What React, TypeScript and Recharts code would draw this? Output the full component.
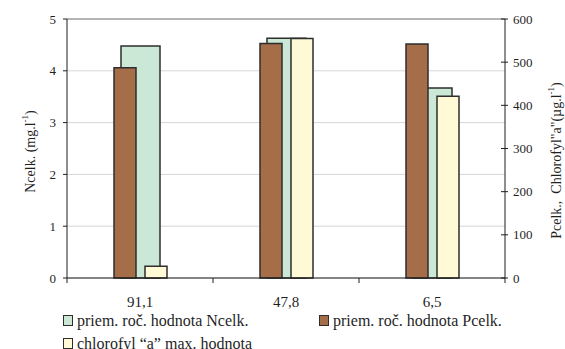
import React from "react";
import { BarChart, Bar, XAxis, YAxis, CartesianGrid, ReferenceLine } from "recharts";

// sampling sites and measured values
const sites = ["91,1", "47,8", "6,5"];
const nCelk = [4.48, 4.63, 3.67]; // mg/l, left axis
const pCelk = [487, 543, 542]; // µg/l, right axis
const chlA = [27, 555, 421]; // µg/l, right axis

const leftTicks = [0, 1, 2, 3, 4, 5];
const rightTicks = [0, 100, 200, 300, 400, 500, 600];

const W = 565;
const H = 349;
const PLOT_LEFT = 67;
const PLOT_RIGHT = 505;
const PLOT_TOP = 19;
const PLOT_BOTTOM = 278;
const BAND = (PLOT_RIGHT - PLOT_LEFT) / sites.length;

const FONT = '"Liberation Serif", "Times New Roman", serif';
const INK = "#1f1f1f";
const GREEN = "#cbe7d6";
const BROWN = "#a56d48";
const CREAM = "#fff9d6";
const EDGE = "#2e2e2e";

const legendItems = [
  { label: "priem. roč. hodnota Ncelk.", color: GREEN, left: 63, top: 312 },
  { label: "priem. roč. hodnota Pcelk.", color: BROWN, left: 319, top: 312 },
  { label: "chlorofyl “a” max. hodnota", color: CREAM, left: 63, top: 335 },
];

const data = sites.map((site, i) => ({ site, n: nCelk[i], p: pCelk[i], chl: chlA[i] }));

function SiteTick(props: any) {
  const { x, y, payload, index } = props;
  const half = BAND / 2;
  return (
    <g>
      <line x1={x - half} x2={x - half} y1={y} y2={y + 5} stroke={INK} />
      {index === sites.length - 1 && (
        <line x1={x + half} x2={x + half} y1={y} y2={y + 5} stroke={INK} />
      )}
      <text x={x} y={y + 29} textAnchor="middle" fontSize={15} fontFamily={FONT} fill={INK}>
        {payload.value}
      </text>
    </g>
  );
}

function RightTick(props: any) {
  const { x, y, payload } = props;
  return (
    <g>
      <line x1={x - 4} x2={x + 3} y1={y} y2={y} stroke={INK} />
      <text x={x + 8} y={y} dy={4.5} fontSize={13} fontFamily={FONT} fill={INK}>
        {payload.value}
      </text>
    </g>
  );
}

function LeftTitle() {
  const cx = 30;
  const cy = (PLOT_TOP + PLOT_BOTTOM) / 2 + 3;
  return (
    <text
      transform={`rotate(-90 ${cx} ${cy})`}
      x={cx}
      y={cy}
      textAnchor="middle"
      dominantBaseline="central"
      fontSize={14}
      fontFamily={FONT}
      fill={INK}
    >
      Ncelk. (mg.l<tspan dy={-5} fontSize={9}>-1</tspan>
      <tspan dy={5}>)</tspan>
    </text>
  );
}

function RightTitle() {
  const cx = 556;
  const cy = (PLOT_TOP + PLOT_BOTTOM) / 2 + 12;
  return (
    <text
      transform={`rotate(-90 ${cx} ${cy})`}
      x={cx}
      y={cy}
      textAnchor="middle"
      dominantBaseline="central"
      fontSize={14}
      fontFamily={FONT}
      fill={INK}
      style={{ whiteSpace: "pre" }}
    >
      {"Pcelk.,  Chlorofyl\"a\"(µg.l"}
      <tspan dy={-5} fontSize={9}>-1</tspan>
      <tspan dy={5}>)</tspan>
    </text>
  );
}

export default function App() {
  return (
    <div style={{ position: "absolute", left: 0, top: 0, width: W, height: H, background: "#fff" }}>
      <BarChart
        width={W}
        height={H}
        data={data}
        margin={{ top: PLOT_TOP, right: W - PLOT_RIGHT - 60, bottom: 0, left: 0 }}
        barGap={9}
      >
        <CartesianGrid xAxisId="n" yAxisId="n" vertical={false} stroke="#d6d6d6" />
        <XAxis
          xAxisId="n"
          dataKey="site"
          height={H - PLOT_BOTTOM}
          axisLine={{ stroke: INK }}
          tickLine={false}
          tickSize={0}
          tickMargin={0}
          tick={<SiteTick />}
          interval={0}
        />
        <XAxis xAxisId="p" dataKey="site" hide />
        <YAxis
          yAxisId="n"
          width={PLOT_LEFT}
          domain={[0, 5]}
          ticks={leftTicks}
          interval={0}
          axisLine={{ stroke: INK }}
          tickLine={{ stroke: INK }}
          tickSize={4}
          tickMargin={7}
          tick={{ fontSize: 13, fontFamily: FONT, fill: INK }}
          label={<LeftTitle />}
        />
        <YAxis
          yAxisId="p"
          orientation="right"
          width={60}
          domain={[0, 600]}
          ticks={rightTicks}
          interval={0}
          axisLine={{ stroke: INK }}
          tickLine={false}
          tickSize={0}
          tickMargin={0}
          tick={<RightTick />}
          label={<RightTitle />}
        />
        <ReferenceLine xAxisId="n" yAxisId="n" y={5} stroke="#a3a3a3" strokeWidth={1.5} />
        <Bar
          xAxisId="n"
          yAxisId="n"
          dataKey="n"
          barSize={39}
          fill={GREEN}
          stroke={EDGE}
          strokeWidth={1.5}
          isAnimationActive={false}
        />
        <Bar
          xAxisId="p"
          yAxisId="p"
          dataKey="p"
          barSize={22}
          fill={BROWN}
          stroke={EDGE}
          strokeWidth={1.5}
          isAnimationActive={false}
        />
        <Bar
          xAxisId="p"
          yAxisId="p"
          dataKey="chl"
          barSize={22}
          fill={CREAM}
          stroke={EDGE}
          strokeWidth={1.5}
          isAnimationActive={false}
        />
      </BarChart>
      {legendItems.map((item) => (
        <div
          key={item.label}
          style={{
            position: "absolute",
            left: item.left,
            top: item.top,
            height: 17,
            display: "flex",
            alignItems: "center",
            fontFamily: FONT,
            fontSize: 16,
            color: INK,
            whiteSpace: "nowrap",
          }}
        >
          <span
            style={{
              display: "inline-block",
              width: 8,
              height: 9,
              background: item.color,
              border: `1.5px solid ${EDGE}`,
              marginRight: 4,
            }}
          />
          {item.label}
        </div>
      ))}
    </div>
  );
}
